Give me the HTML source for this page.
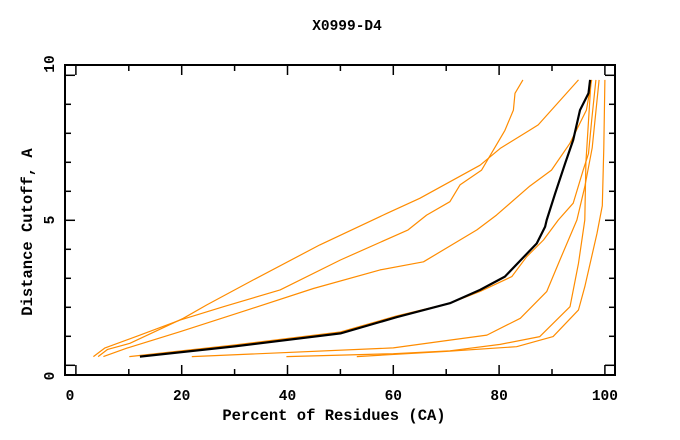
<!DOCTYPE html>
<html><head><meta charset="utf-8">
<style>
html,body{margin:0;padding:0;background:#fff;}
svg{display:block;}
text{font-family:"Liberation Mono",monospace;font-weight:bold;fill:#000;}
</style></head>
<body>
<svg id="chart" width="680" height="440" xmlns="http://www.w3.org/2000/svg">
<text x="347" y="30" font-size="14.5" text-anchor="middle">X0999-D4</text>
<text x="334" y="420" font-size="15.5" text-anchor="middle">Percent of Residues (CA)</text>
<text x="0" y="0" font-size="15.5" text-anchor="middle" transform="translate(32,232) rotate(-90)">Distance Cutoff, A</text>
<g id="ticks"></g>
<g id="series"></g>
<rect x="65" y="65" width="550" height="310" fill="none" stroke="#000" stroke-width="2"/>
</svg>
<script>
const xTicks=[0,20,40,60,80,100];
const xMinor=[10,30,50,70,90];
const yTicks=[0,5,10];
const yMinor=[1,2,3,4,6,7,8,9];
const black=[[12.1,0.3],[30,0.65],[50,1.1],[60.6,1.66],[70.7,2.14],[76.4,2.6],[81.1,3.06],[87.1,4.2],[88.7,4.78],[89,5.01],[90.6,5.93],[92.5,6.97],[94,7.77],[95.3,8.8],[96.9,9.38],[97.2,9.84]];
const seriesA=[[3.3,0.3],[5.5,0.6],[11.5,1.0],[19.7,1.56],[27.9,2.02],[38.6,2.6],[50,3.63],[62.8,4.67],[66.3,5.18],[70.7,5.64],[72.6,6.22],[76.7,6.73],[81.1,8.1],[82.7,8.8],[83,9.38],[84.5,9.84]];
const seriesB=[[4.2,0.3],[6,0.55],[10.2,0.76],[20.3,1.62],[24.7,2.08],[33.5,2.94],[46.1,4.15],[58.8,5.24],[65,5.76],[76.4,6.9],[80.2,7.48],[85.8,8.11],[87.4,8.29],[95,9.84]];
const seriesC=[[5.2,0.3],[9.6,0.59],[19.7,1.16],[32.3,1.9],[44.9,2.65],[57.5,3.29],[65.7,3.57],[75.8,4.67],[79.5,5.18],[85.8,6.18],[89.9,6.73],[93.4,7.66],[96.5,8.8],[97.5,9.84]];
const seriesD=[[10.1,0.3],[30,0.7],[50,1.15],[60.6,1.7],[70.7,2.14],[76.4,2.55],[82.4,3.06],[85.2,3.74],[88.4,4.32],[91.2,5.01],[94,5.59],[95.9,6.73],[96.9,7.3],[97.5,8.46],[98.3,9.84]];
const seriesE=[[21.9,0.3],[60,0.6],[70.7,0.87],[77.7,1.04],[84,1.62],[89,2.54],[91.5,3.63],[94.7,5.01],[96.2,6.16],[97.6,7.5],[98.9,9.84]];
const seriesF=[[39.8,0.3],[60,0.4],[70.7,0.5],[80.2,0.72],[87.7,0.99],[93.4,2.02],[95,3.52],[96.2,5.01],[96.4,7],[97.4,9.84]];
const seriesG=[[53.1,0.3],[70,0.48],[83.3,0.64],[90.2,0.99],[95,1.91],[96.2,2.71],[98.5,4.55],[99.5,5.5],[99.8,7.5],[100,9.84]];
const oranges=[seriesA,seriesB,seriesC,seriesD,seriesE,seriesF,seriesG];
const orangeNames=['series-a','series-b','series-c','series-d','series-e','series-f','series-g'];

const X0=75.9,XS=5.29,Y0=365.3,YS=29;
function xs(u){return X0+u*XS;}
function ys(v){return Y0-v*YS;}
const NS='http://www.w3.org/2000/svg';
const svg=document.getElementById('chart');
const tg=document.getElementById('ticks');
const sg=document.getElementById('series');
function line(g,x1,y1,x2,y2,name){
  const l=document.createElementNS(NS,'line');
  l.setAttribute('x1',x1);l.setAttribute('y1',y1);l.setAttribute('x2',x2);l.setAttribute('y2',y2);
  l.setAttribute('stroke','#000');l.setAttribute('stroke-width','1.5');
  
  
  g.appendChild(l);
}
function label(txt,x,y,anchor,rot,name){
  const t=document.createElementNS(NS,'text');
  t.textContent=txt;t.setAttribute('font-size','14.5');t.setAttribute('text-anchor',anchor);
  if(rot){t.setAttribute('transform','translate('+x+','+y+') rotate(-90)');}
  else{t.setAttribute('x',x);t.setAttribute('y',y);}
  
  
  svg.appendChild(t);
}
xTicks.forEach(function(u){
  const x=xs(u);
  line(tg,x,375,x,365,'x-tick');
  line(tg,x,65,x,75,'x-tick-top');
  label(String(u),u===0?70:x,400,'middle',false,'x-tick-label');
});
xMinor.forEach(function(u){
  const x=xs(u);
  line(tg,x,375,x,369,'x-minor-tick');
  line(tg,x,65,x,71,'x-minor-tick-top');
});
yTicks.forEach(function(v){
  const y=ys(v);
  line(tg,65,y,75,y,'y-tick');
  line(tg,615,y,605,y,'y-tick-right');
});
const yLabelPos=[376,220,64];
yTicks.forEach(function(v,i){
  label(String(v),54,yLabelPos[i],'middle',true,'y-tick-label');
});
yMinor.forEach(function(v){
  const y=ys(v);
  line(tg,65,y,71,y,'y-minor-tick');
  line(tg,615,y,609,y,'y-minor-tick-right');
});
function poly(data,color,w,name){
  const p=document.createElementNS(NS,'polyline');
  p.setAttribute('points',data.map(function(d){return xs(d[0]).toFixed(1)+','+ys(d[1]).toFixed(1);}).join(' '));
  p.setAttribute('fill','none');p.setAttribute('stroke',color);p.setAttribute('stroke-width',w);
  p.setAttribute('stroke-linejoin','round');
  
  
  sg.appendChild(p);
}
oranges.forEach(function(s,i){poly(s,'#ff8c00','1.2',orangeNames[i]);});
poly(black,'#000','2.2','series-target');
</script>
</body></html>
